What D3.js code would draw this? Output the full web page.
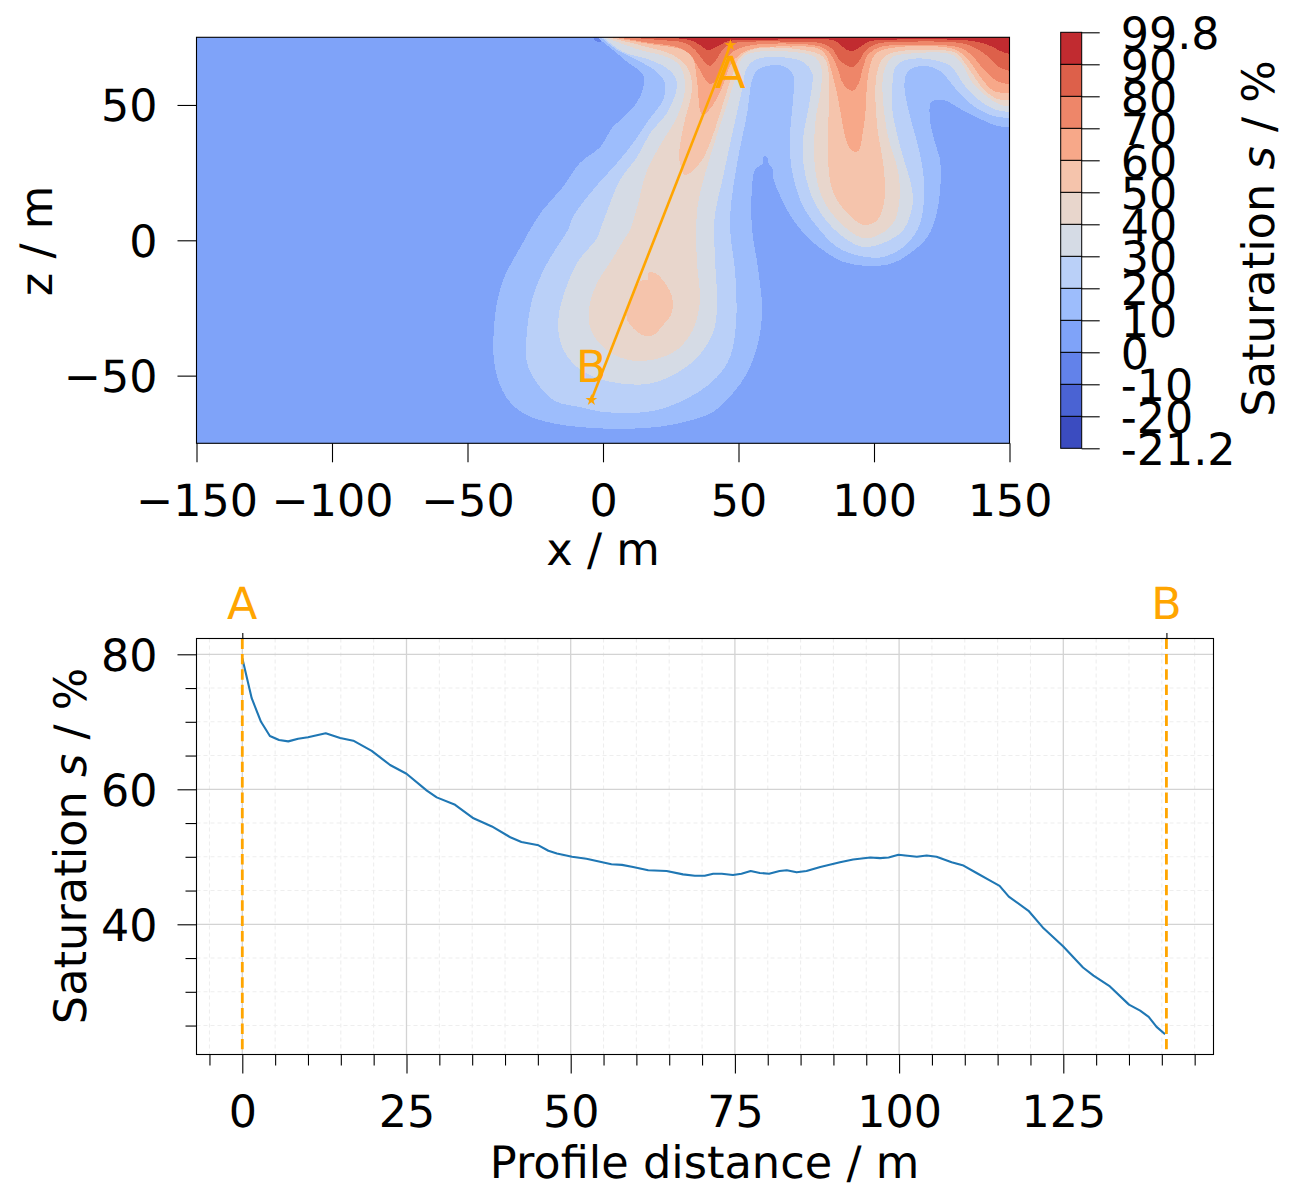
<!DOCTYPE html>
<html>
<head>
<meta charset="utf-8">
<script src="https://cdn.jsdelivr.net/npm/d3@7"></script>
<style>
html,body{margin:0;padding:0;background:#fff}
svg{display:block;text-rendering:geometricPrecision}
text{font-family:"DejaVu Sans",sans-serif;fill:#000}
</style>
</head>
<body>
<svg id="chart" width="1300" height="1200"></svg>
<script>
// ---------- values ----------
const xTicks = [-150,-100,-50,0,50,100,150];
const zTicks = [-50,0,50];
const barLabels = ["-21.2","-20","-10","0","10","20","30","40","50","60","70","80","90","99.8"];
const barColors = ["#3b4cc0","#4a63d3","#6282ea","#7fa3f9","#9dbdfc","#bad0f8","#d5dbe5","#e8d6cc","#f5c4ac","#f7a889","#ee8669","#dd604a","#c12b30"];

const band00 = [[-3.6,75],[-1.4,75],[-0.6,73.6],[-2.2,73.4]];
const band10 = [[-2.2,75],[3.7,70.3],[8.9,65.9],[14.8,61.1],[14.8,56.3],[12.6,51.1],[7.4,45.2],[3.7,42],[-1.1,34.4],[-8.5,28.6],[-14.8,19.7],[-22.2,11.2],[-27,3.8],[-29.6,-1],[-33.2,-7.3],[-36.9,-14.7],[-39.9,-28.3],[-39.9,-46.8],[-35.5,-58.3],[-29.6,-63.8],[-20.7,-67.1],[-4.8,-69.3],[16.3,-69.3],[28.4,-67.5],[40.6,-63.4],[48,-56.4],[53.2,-49],[56.9,-39.4],[58.7,-25.7],[56.9,-8.4],[55,3.8],[55,19.7],[56.1,26],[59.1,28.6],[59.1,30.8],[60.6,30.8],[61,28.6],[62.8,26],[62.8,23],[66.5,14.1],[70.2,7.5],[76.5,0.1],[82.7,-4.7],[88.7,-8],[97.5,-9.5],[107.1,-8.4],[113.4,-4.7],[119.7,1.2],[123.4,11.2],[124.5,28.6],[122.6,35.9],[120.8,43.3],[120.8,50.7],[121.9,51.6],[126.3,51.6],[131.9,48.5],[139.3,44.8],[145.5,42.2],[150,41.9],[150,75]];
const band20 = [[-0.7,75],[5.2,70.3],[12.6,66.6],[19.9,62.2],[22.9,58.1],[22.9,55.5],[22.2,51.8],[16.3,43.7],[11.1,35.9],[5.2,28.6],[-3.7,18.6],[-11.1,8.6],[-12.9,3.8],[-17,-2.5],[-21.4,-9.9],[-25.1,-18.4],[-27,-25.7],[-28.1,-34.2],[-28.1,-45],[-24.4,-52.7],[-17.7,-59.4],[-8.5,-61.6],[0,-63.4],[16.3,-63.4],[25.9,-60.8],[34.7,-56.4],[42.1,-50.5],[46.9,-43.1],[49.1,-30.5],[48.8,-12.1],[46.9,3.8],[47.3,13.8],[49.5,28.6],[53.2,47],[55,59.2],[56.9,62.9],[60.6,64.4],[66.5,64.4],[70.2,61.1],[70.2,52.9],[69.1,40.7],[69.1,30.8],[70.2,23.4],[73.9,12.3],[79.1,4.9],[86.4,-2.5],[94.9,-5.8],[103.4,-6.2],[110.8,-2.5],[116,3.8],[118.2,12.3],[118.2,24.9],[116,35.9],[112.7,48.1],[111.2,57.7],[112.3,62.2],[115.3,64],[119.7,64.4],[124.5,62.5],[130.8,55.2],[136.7,49.6],[144.1,45.9],[150,45.2],[150,75]];
const band30 = [[0,75],[7.4,69.6],[16.3,67],[23.6,63.6],[26.6,60.3],[27.3,56.6],[23.6,47],[17.4,39.6],[12.6,30.8],[6.3,22.3],[0.7,8.6],[-1.1,3.8],[-2.2,0.8],[-9.6,-8.4],[-15.1,-22.1],[-16.6,-30.5],[-15.1,-39.4],[-9.6,-46.8],[0,-51.6],[16.3,-53.1],[27.3,-49],[34.7,-43.4],[40.6,-34.2],[42.1,-24.6],[41.4,-8.4],[41,3.8],[41.4,10.1],[44.3,23.4],[48,40.7],[51.3,55.5],[53.2,64],[56.9,67],[61.7,67.7],[65.4,67.7],[73.9,65.9],[77.2,61.8],[76.5,52.9],[73.9,38.2],[73.9,28.6],[76.5,17.5],[81.3,8.6],[88.7,1.2],[96,-2.5],[103.4,-1],[110.8,3.8],[114.1,12.3],[114.1,18.6],[109.7,34.5],[106.8,48.1],[106.8,57.7],[107.9,64],[111.6,66.6],[119.7,67],[128.2,64.4],[133,57.7],[138.2,52.2],[144.1,48.5],[150,47.4],[150,75]];
const band40 = [[0.7,75],[13.7,70.3],[23.6,67.7],[28.4,64.4],[30.3,56.6],[27.3,45.5],[22.2,37],[16.3,26],[12.6,12.3],[10,3.8],[8.1,0.8],[3.7,-6.5],[-2.2,-15.8],[-4.8,-23.2],[-4.8,-32],[0,-39.4],[8.9,-44.1],[18.5,-44.1],[27.3,-40.5],[33.2,-33.1],[35.1,-26.9],[35.8,-20.9],[34.7,-8.4],[34.4,3.8],[35.1,13.8],[39.5,30.8],[45.1,48.1],[49.5,61.8],[51.7,67.7],[56.9,69.6],[70.2,69.6],[78.3,67.7],[80.5,64],[80.5,56.6],[78.3,43.3],[78.3,26],[81.3,14.9],[87.6,6.4],[96,0.8],[102.3,2.3],[107.1,6.4],[109.3,13.8],[109,24.9],[104.9,39.6],[103.1,57.7],[104.2,64],[106.8,67.7],[111.6,68.8],[128.2,68.8],[131.9,65.9],[136.7,57.7],[141.9,52.9],[146.7,50],[150,49.6],[150,75]];
const band50 = [[1.8,75],[16.3,71.4],[25.9,68.4],[31,64],[32.9,56.6],[29.6,41.9],[28.1,32.2],[28.4,28.6],[30.3,24.1],[35.8,28.6],[39.5,35.9],[43.2,47],[48,61.8],[50.6,67.7],[56.1,70.7],[73.9,70.3],[81.3,67.7],[83.1,62.9],[83.1,28.6],[85,17.5],[90.1,10.1],[96,5.7],[100.5,6.8],[103.4,12.3],[103.8,24.9],[101.2,41.9],[100.5,56.6],[101.6,64],[104.2,68.1],[109.7,69.9],[128.2,69.9],[130.8,68.8],[135.6,62.5],[140.4,55.9],[145.5,52.2],[150,51.8],[150,75]];
const band50Blob = [[16.6,-12.1],[19.2,-12.1],[22.9,-15.8],[25.5,-20.9],[25.5,-26.5],[22.2,-31.3],[18.5,-35],[14.4,-35],[8.9,-29.4],[8.9,-25.7],[11.1,-19.5],[14.4,-14.7],[16.6,-14.7]];
const band60 = [[3.3,75],[18.5,72.3],[29.6,70.3],[33.2,67],[34.7,58.8],[36.6,46.3],[40.6,50],[44,56.6],[46.9,64.4],[50.6,68.8],[56.1,71],[69.1,71.6],[79.1,71],[82,68.8],[84.6,61.4],[86.4,54],[90.1,35.9],[92,33],[94.2,33],[96,40.7],[96.8,46.7],[97.9,61.4],[100.5,68.8],[106,71],[129.3,70.7],[134.5,67],[139.3,60.3],[144.1,55.2],[150,54.4],[150,75]];
const band70 = [[5.2,75],[17.4,72.9],[27.3,71.4],[32.1,68.8],[35.1,64],[39.5,57.7],[42.5,60.3],[44.3,65.1],[47.7,69.6],[53.2,71.8],[64.3,72.7],[72.8,72.5],[79.4,71.8],[83.1,69.9],[86.4,64],[88.7,57.7],[92,55.2],[94.2,57.7],[96,64],[97.9,68.8],[102.3,71.4],[109.7,72.1],[130.8,71.4],[135.6,68.8],[140.4,63.3],[145.5,58.8],[150,57.7],[150,75]];
const band80 = [[7,75],[21.1,74],[30.3,72.9],[34,70.3],[36.9,66.6],[39.5,64.4],[41.7,66.6],[44,70.3],[46.9,72.5],[52.5,73.3],[72.8,73.3],[80.2,72.9],[84.6,70.7],[87.5,66.3],[92,64],[94.2,65.9],[96.8,69.9],[100.5,72.5],[109.7,73.3],[131.9,72.9],[136.7,71.4],[141.9,68.1],[145.5,64.4],[150,62.5],[150,75]];
const band90 = [[10,75],[32.1,74],[35.8,72.1],[38.8,70.3],[42.5,71.8],[46.2,73.6],[58,74],[83.1,74.2],[86.4,73.3],[89.4,70.7],[92,69.9],[94.9,71.4],[98.6,73.6],[109.7,74.2],[131.9,74],[138.2,73.3],[143,71.8],[146.7,69.9],[150,68.8],[150,75]];
const bandLevels = [
  {ring:band00, lower:"-10"},{ring:band10, lower:"10"},{ring:band20, lower:"20"},{ring:band30, lower:"30"},
  {ring:band40, lower:"40"},{ring:band50, lower:"50"},{ring:band50Blob, lower:"50"},{ring:band60, lower:"60"},
  {ring:band70, lower:"70"},{ring:band80, lower:"80"},{ring:band90, lower:"90"}
];
const profileEnds = [{name:"A", x:47, z:72.1, dist:0},{name:"B", x:-4.3, z:-59, dist:140.7}];

const distTicks = [0,25,50,75,100,125];
const distMinor = [-5,0,5,10,15,20,25,30,35,40,45,50,55,60,65,70,75,80,85,90,95,100,105,110,115,120,125,130,135,140,145];
const satTicks = [40,60,80];
const satMinor = [25,30,35,40,45,50,55,60,65,70,75,80];
const profileDist = [0,1.43,2.85,4.2,5.6,7,8.5,10,12.7,14.9,16.9,19.7,22.5,25,28.1,29.6,32.4,35.2,38,40.8,42.5,45.1,46.6,47.9,50.2,52.4,56.2,57.8,59.5,61.8,64.6,67.1,68.9,70.4,71.7,73,74.7,76,77.4,78.8,80.2,81.8,82.9,84.4,85.9,88,91,93,95.6,97.1,98.4,99.9,102.7,104.2,105.7,108,109.8,111.8,113.8,115.3,116.7,119.7,122,125,128,129.6,132.1,135,136.7,138,139.2,140.5];
const profileSat = [79.4,73.5,70,67.9,67.3,67.1,67.5,67.7,68.3,67.6,67.2,65.7,63.6,62.3,59.8,58.8,57.7,55.7,54.5,52.9,52.2,51.7,50.9,50.5,50,49.7,48.9,48.8,48.5,48,47.9,47.4,47.2,47.2,47.5,47.5,47.3,47.5,47.9,47.6,47.5,47.9,48,47.7,47.9,48.5,49.2,49.6,49.9,49.8,49.9,50.3,50,50.2,50,49.2,48.7,47.6,46.5,45.7,44.1,42,39.4,36.7,33.6,32.4,30.8,28.1,27.2,26.3,24.8,23.7];

// ---------- layout ----------
const FS = 44.4, LABEL_FS = 44.7, ORANGE = "#ffa500";
const svg = d3.select("#chart");
const L = 196.5, R = 1009.5, T = 37.3, B = 443.3;
const x = d3.scaleLinear().domain([-150,150]).range([L,R]);
const z = d3.scaleLinear().domain([-75,75]).range([B,T]);

function styleAxis(g, size){
  g.select(".domain").remove();
  g.selectAll("line").attr("stroke","#000").attr("stroke-width",1.1);
  g.selectAll("text").attr("font-size",size||FS).attr("font-family",'"DejaVu Sans",sans-serif').attr("fill","#000");
}
const centreY = g => g.selectAll("text").attr("dy","0.36em");

// ---------- top panel: filled contours ----------
svg.append("clipPath").attr("id","mapClip").append("rect")
  .attr("x",L).attr("y",T).attr("width",R-L).attr("height",B-T);
const colorOf = lower => barColors[barLabels.indexOf(lower)];
const openCurve = d3.line().x(d=>x(d[0])).y(d=>z(d[1])).curve(d3.curveCatmullRom.alpha(0.5));
const closedCurve = d3.line().x(d=>x(d[0])).y(d=>z(d[1])).curve(d3.curveCatmullRomClosed.alpha(0.5));
function bandPath(ring){
  const last = ring[ring.length-1];
  if (last[0]===150 && last[1]===75) {
    // contour runs from the top edge to the right edge; finish along the panel corner
    return openCurve(ring.slice(0,-1)) + "L" + x(last[0]) + "," + z(last[1]) + "Z";
  }
  return closedCurve(ring);
}
const mapPanel = svg.append("g");
mapPanel.append("rect").attr("x",L).attr("y",T).attr("width",R-L).attr("height",B-T).attr("fill",colorOf("0"));
mapPanel.append("g").attr("clip-path","url(#mapClip)")
  .selectAll("path.band").data(bandLevels).join("path").attr("class","band")
  .attr("d",d=>bandPath(d.ring)).attr("fill",d=>colorOf(d.lower)).attr("shape-rendering","crispEdges");

// profile line with its two stars and letters
mapPanel.append("path").attr("d",d3.line().x(d=>x(d.x)).y(d=>z(d.z))(profileEnds))
  .attr("fill","none").attr("stroke",ORANGE).attr("stroke-width",2.6);
const star = d3.symbol().type(d3.symbolStar).size(42);
mapPanel.selectAll("path.star").data(profileEnds).join("path").attr("class","star")
  .attr("d",star).attr("fill",ORANGE)
  .attr("transform",d=>`translate(${x(d.x)},${z(d.z)})`);
mapPanel.selectAll("text.end").data(profileEnds).join("text").attr("class","end")
  .attr("x",d=>x(d.x)).attr("y",d=>z(d.z)+(d.name==="A"?43:-18))
  .attr("text-anchor","middle").attr("font-size",FS).style("fill",ORANGE).text(d=>d.name);

mapPanel.append("rect").attr("x",L).attr("y",T).attr("width",R-L).attr("height",B-T)
  .attr("fill","none").attr("stroke","#000").attr("stroke-width",1.1);

svg.append("g").attr("transform",`translate(0,${B})`)
  .call(d3.axisBottom(x).tickValues(xTicks).tickSize(19).tickPadding(22))
  .call(styleAxis);
svg.append("g").attr("transform",`translate(${L},0)`)
  .call(d3.axisLeft(z).tickValues(zTicks).tickSize(19).tickPadding(20))
  .call(styleAxis).call(centreY);
svg.append("text").attr("x",603).attr("y",565).attr("text-anchor","middle").attr("font-size",LABEL_FS).text("x / m");
svg.append("text").attr("transform","translate(52,241) rotate(-90)").attr("text-anchor","middle").attr("font-size",LABEL_FS).text("z / m");

// ---------- colour bar ----------
const barX = 1060.7, barW = 21;
const barY = d3.scalePoint().domain(barLabels).range([448.3,32.3]);
const bar = svg.append("g");
bar.selectAll("rect").data(barColors).join("rect")
  .attr("x",barX).attr("width",barW)
  .attr("y",(d,i)=>barY(barLabels[i+1]))
  .attr("height",(d,i)=>barY(barLabels[i])-barY(barLabels[i+1]))
  .attr("fill",d=>d).attr("stroke","#000").attr("stroke-width",1);
svg.append("g").attr("transform",`translate(${barX+barW},0)`)
  .call(d3.axisRight(barY).tickSize(18).tickPadding(21))
  .call(styleAxis).call(centreY);
const barTitle = svg.append("text").attr("transform","translate(1274,238.5) rotate(-90)")
  .attr("text-anchor","middle").attr("font-size",LABEL_FS);
barTitle.append("tspan").text("Saturation ");
barTitle.append("tspan").attr("font-style","italic").text("s");
barTitle.append("tspan").text(" / %");

// ---------- bottom panel: profile ----------
const PL = 196.5, PR = 1213.5, PT = 638.5, PB = 1054.5;
const dist = d3.scaleLinear().domain([(PL-242.3)/6.568,(PR-242.3)/6.568]).range([PL,PR]);
const sat = d3.scaleLinear().domain([80-(PB-654.3)/6.75,80+(654.3-PT)/6.75]).range([PB,PT]);

const panel = svg.append("g");
panel.selectAll("line.vminor").data(distMinor.filter(d=>!distTicks.includes(d))).join("line").attr("class","vminor")
  .attr("x1",dist).attr("x2",dist).attr("y1",PT).attr("y2",PB)
  .attr("stroke","#eeeeee").attr("stroke-width",1.1).attr("stroke-dasharray","4,3");
panel.selectAll("line.hminor").data(satMinor.filter(d=>!satTicks.includes(d))).join("line").attr("class","hminor")
  .attr("x1",PL).attr("x2",PR).attr("y1",sat).attr("y2",sat)
  .attr("stroke","#eeeeee").attr("stroke-width",1.1).attr("stroke-dasharray","4,3");
panel.selectAll("line.vmajor").data(distTicks).join("line").attr("class","vmajor")
  .attr("x1",dist).attr("x2",dist).attr("y1",PT).attr("y2",PB)
  .attr("stroke","#d3d3d3").attr("stroke-width",1.3);
panel.selectAll("line.hmajor").data(satTicks).join("line").attr("class","hmajor")
  .attr("x1",PL).attr("x2",PR).attr("y1",sat).attr("y2",sat)
  .attr("stroke","#d3d3d3").attr("stroke-width",1.3);

panel.append("path")
  .attr("d",d3.line().x(d=>dist(d)).y((d,i)=>sat(profileSat[i]))(profileDist))
  .attr("fill","none").attr("stroke","#1f77b4").attr("stroke-width",2.1).attr("stroke-linejoin","round");

panel.selectAll("line.endline").data(profileEnds).join("line").attr("class","endline")
  .attr("x1",d=>dist(d.dist)).attr("x2",d=>dist(d.dist)).attr("y1",PT).attr("y2",PB)
  .attr("stroke",ORANGE).attr("stroke-width",2.8).attr("stroke-dasharray","10.4,5");

panel.append("rect").attr("x",PL).attr("y",PT).attr("width",PR-PL).attr("height",PB-PT)
  .attr("fill","none").attr("stroke","#000").attr("stroke-width",1.1);

svg.append("g").attr("transform",`translate(0,${PB})`)
  .call(d3.axisBottom(dist).tickValues(distMinor.filter(d=>!distTicks.includes(d))).tickSize(11).tickFormat(""))
  .call(styleAxis);
svg.append("g").attr("transform",`translate(0,${PB})`)
  .call(d3.axisBottom(dist).tickValues(distTicks).tickSize(19).tickPadding(22))
  .call(styleAxis);
svg.append("g").attr("transform",`translate(${PL},0)`)
  .call(d3.axisLeft(sat).tickValues(satMinor.filter(d=>!satTicks.includes(d))).tickSize(11).tickFormat(""))
  .call(styleAxis);
svg.append("g").attr("transform",`translate(${PL},0)`)
  .call(d3.axisLeft(sat).tickValues(satTicks).tickSize(19).tickPadding(20))
  .call(styleAxis).call(centreY);
svg.append("g").attr("transform",`translate(0,${PT})`)
  .call(d3.axisTop(dist).tickValues(profileEnds.map(d=>d.dist)).tickSize(5.5).tickFormat(""))
  .call(styleAxis);
svg.selectAll("text.pend").data(profileEnds).join("text").attr("class","pend")
  .attr("x",d=>dist(d.dist)).attr("y",619).attr("text-anchor","middle").attr("font-size",FS)
  .style("fill",ORANGE).text(d=>d.name);

svg.append("text").attr("x",704.5).attr("y",1178).attr("text-anchor","middle").attr("font-size",LABEL_FS).text("Profile distance / m");
const satTitle = svg.append("text").attr("transform","translate(86,846) rotate(-90)")
  .attr("text-anchor","middle").attr("font-size",LABEL_FS);
satTitle.append("tspan").text("Saturation ");
satTitle.append("tspan").attr("font-style","italic").text("s");
satTitle.append("tspan").text(" / %");
</script>
</body>
</html>
